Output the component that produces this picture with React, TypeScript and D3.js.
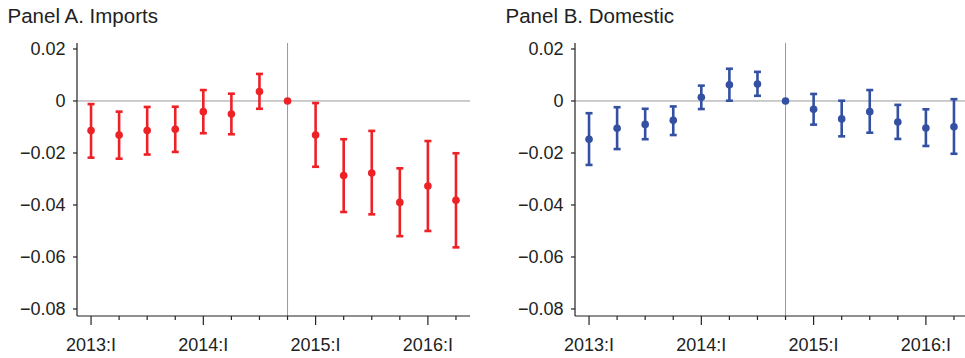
import * as d3 from 'd3';

const quarters = [
  '2013:I', '2013:II', '2013:III', '2013:IV',
  '2014:I', '2014:II', '2014:III', '2014:IV',
  '2015:I', '2015:II', '2015:III', '2015:IV',
  '2016:I', '2016:II',
];
const yearTicks = ['2013:I', '2014:I', '2015:I', '2016:I'];
const yTicks = [0.02, 0, -0.02, -0.04, -0.06, -0.08];
const eventQuarter = '2014:IV';

const importsEst = [-0.0114, -0.0131, -0.0114, -0.0109, -0.0041, -0.005, 0.0036, 0, -0.0131, -0.0287, -0.0277, -0.039, -0.0327, -0.0382];
const importsLo = [-0.0218, -0.0222, -0.0206, -0.0196, -0.0124, -0.0128, -0.003, 0, -0.0253, -0.0427, -0.0436, -0.052, -0.05, -0.0563];
const importsHi = [-0.0012, -0.0041, -0.0023, -0.0022, 0.0042, 0.0028, 0.0104, 0, -0.0008, -0.0147, -0.0115, -0.0259, -0.0154, -0.0201];

const domesticEst = [-0.0147, -0.0105, -0.009, -0.0074, 0.0014, 0.0062, 0.0065, 0, -0.0032, -0.0069, -0.0041, -0.0081, -0.0104, -0.0099];
const domesticLo = [-0.0246, -0.0185, -0.0147, -0.0131, -0.0031, 0.0001, 0.002, 0, -0.0091, -0.0136, -0.0122, -0.0146, -0.0173, -0.0203];
const domesticHi = [-0.0047, -0.0024, -0.003, -0.0021, 0.0059, 0.0124, 0.0112, 0, 0.0027, 0.0001, 0.0042, -0.0015, -0.0032, 0.0007];

const FONT = '"Liberation Sans", Arial, Helvetica, sans-serif';
const fmt = (v: number) => (v === 0 ? '0' : (v < 0 ? '\u2212' : '') + Math.abs(v).toFixed(2));

interface PanelProps {
  left: number;
  title: string;
  color: string;
  est: number[];
  lo: number[];
  hi: number[];
}

function Panel({ left, title, color, est, lo, hi }: PanelProps) {
  const top = 43;
  const bottom = 316;
  const width = 393;

  const x = d3.scaleLinear().domain([-0.5, quarters.length - 0.5]).range([0, width]);
  const y = d3.scaleLinear().domain([-0.0827, 0.0223]).range([bottom, top]);
  const xi = (q: string) => x(quarters.indexOf(q));

  return (
    <g transform={`translate(${left},0)`} fontFamily={FONT}>
      <text x={-69.5} y={23.3} fontSize={20.5} fill="#222">{title}</text>

      {/* zero line and event line */}
      <line x1={0} x2={width} y1={y(0)} y2={y(0)} stroke="#999" strokeWidth={1} />
      <line x1={xi(eventQuarter)} x2={xi(eventQuarter)} y1={top} y2={bottom} stroke="#999" strokeWidth={1} />

      {/* y axis */}
      <line x1={0} x2={0} y1={top} y2={bottom} stroke="#222" strokeWidth={1.2} />
      {yTicks.map(t => (
        <g key={t}>
          <line x1={-4} x2={0} y1={y(t)} y2={y(t)} stroke="#222" strokeWidth={1.2} />
          <text x={-11.5} y={y(t)} dy="0.35em" textAnchor="end" fontSize={18} fill="#222">{fmt(t)}</text>
        </g>
      ))}

      {/* x axis */}
      <line x1={0} x2={width} y1={bottom} y2={bottom} stroke="#222" strokeWidth={1.2} />
      {quarters.map((q, i) => {
        const major = yearTicks.includes(q);
        return (
          <line key={q} x1={x(i)} x2={x(i)} y1={bottom} y2={bottom + (major ? 9 : 4)} stroke="#222" strokeWidth={1.2} />
        );
      })}
      {yearTicks.map(q => (
        <text key={q} x={xi(q)} y={351} textAnchor="middle" fontSize={18} fill="#222">{q}</text>
      ))}

      {/* estimates */}
      {quarters.map((q, i) => {
        const cx = x(i);
        const hasBar = hi[i] !== lo[i];
        return (
          <g key={q}>
            {hasBar && (
              <g stroke={color} strokeWidth={2.6}>
                <line x1={cx} x2={cx} y1={y(hi[i])} y2={y(lo[i])} />
                <line x1={cx - 3.5} x2={cx + 3.5} y1={y(hi[i])} y2={y(hi[i])} />
                <line x1={cx - 3.5} x2={cx + 3.5} y1={y(lo[i])} y2={y(lo[i])} />
              </g>
            )}
            <circle cx={cx} cy={y(est[i])} r={3.8} fill={color} />
          </g>
        );
      })}
    </g>
  );
}

export default function App() {
  return (
    <svg width={965} height={358} style={{ position: 'absolute', left: 0, top: 0, background: '#fff' }}>
      <Panel left={77} title="Panel A. Imports" color="#ec2227" est={importsEst} lo={importsLo} hi={importsHi} />
      <Panel left={575} title="Panel B. Domestic" color="#3450a2" est={domesticEst} lo={domesticLo} hi={domesticHi} />
    </svg>
  );
}
